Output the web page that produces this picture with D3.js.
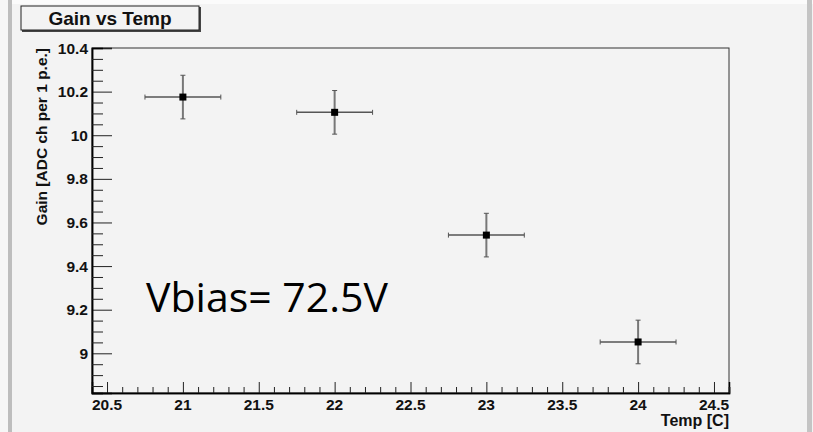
<!DOCTYPE html>
<html><head><meta charset="utf-8">
<script src="https://cdn.jsdelivr.net/npm/d3@7"></script>
<style>
html,body{margin:0;padding:0;background:#f3f3f3;}
svg{display:block;}
text{font-family:"Liberation Sans",Arial,sans-serif;}
text.anno{font-family:"Open Sans","Liberation Sans",sans-serif;}
</style></head>
<body>
<svg id="c" width="813" height="432"></svg>
<script>
const temps = [21, 22, 23, 24];
const gains = [10.175, 10.105, 9.542, 9.052];
const tempErr = [0.25, 0.25, 0.25, 0.25];
const gainErr = [0.1, 0.1, 0.1, 0.1];
const xTickLabels = ["20.5","21","21.5","22","22.5","23","23.5","24","24.5"];
const yTickLabels = ["9","9.2","9.4","9.6","9.8","10","10.2","10.4"];

const svg = d3.select("#c");
const W = 813, H = 432;
const L = 92, R = 729, T = 48, B = 393;

// background & frame bars
svg.append("rect").attr("x",0).attr("y",0).attr("width",W).attr("height",H).attr("fill","#f3f3f3");
svg.append("rect").attr("x",0).attr("y",0).attr("width",W).attr("height",4).attr("fill","#fbfbfb");
svg.append("rect").attr("x",0).attr("y",0).attr("width",8).attr("height",H).attr("fill","#f6f6f6");
svg.append("rect").attr("x",8).attr("y",0).attr("width",4).attr("height",H).attr("fill","#bdbdbd");
svg.append("rect").attr("x",807).attr("y",0).attr("width",5).attr("height",H).attr("fill","#c4c4c4");

const x = d3.scaleLinear().domain([20.401, 24.599]).range([L, R]);
const y = d3.scaleLinear().domain([8.818, 10.4]).range([B, T]);

// frame
svg.append("rect").attr("x",L).attr("y",T).attr("width",R-L).attr("height",B-T)
  .attr("fill","none").attr("stroke","#333").attr("stroke-width",1);

// x axis
const xMajor = xTickLabels.map(Number);
const xAxis = d3.axisTop(x).tickValues(xMajor).tickSize(11).tickFormat("");
const gx = svg.append("g").attr("transform",`translate(0,${B})`).call(xAxis);
const xMinor = d3.range(20.5, 24.6, 0.1).map(v=>+v.toFixed(2)).filter(v=>!xMajor.some(m=>Math.abs(m-v)<1e-6));
const gxm = svg.append("g").attr("transform",`translate(0,${B})`).call(d3.axisTop(x).tickValues(xMinor).tickSize(6).tickFormat(""));
[gx,gxm].forEach(g=>{g.select(".domain").attr("stroke","#000").attr("stroke-width",1.5);g.selectAll(".tick line").attr("stroke","#222").attr("stroke-width",1);});
svg.append("g").selectAll("text").data(xTickLabels).join("text")
  .attr("x",d=>x(+d)).attr("y",410).attr("text-anchor","middle")
  .attr("font-size",15.5).attr("font-weight","bold").attr("fill","#111").text(d=>d);

// y axis
const yMajor = yTickLabels.map(Number);
const gy = svg.append("g").attr("transform",`translate(${L},0)`).call(d3.axisRight(y).tickValues(yMajor).tickSize(20).tickFormat(""));
const yMinor = d3.range(8.85, 10.4, 0.05).map(v=>+v.toFixed(2)).filter(v=>!yMajor.some(m=>Math.abs(m-v)<1e-6));
const gym = svg.append("g").attr("transform",`translate(${L},0)`).call(d3.axisRight(y).tickValues(yMinor).tickSize(11).tickFormat(""));
[gy,gym].forEach(g=>{g.select(".domain").attr("stroke","#000").attr("stroke-width",1.5);g.selectAll(".tick line").attr("stroke","#222").attr("stroke-width",1);});
svg.append("g").selectAll("text").data(yTickLabels).join("text")
  .attr("x",88).attr("y",d=>y(+d)+5.5).attr("text-anchor","end")
  .attr("font-size",15.5).attr("font-weight","bold").attr("fill","#111").text(d=>d);

// axis titles
svg.append("text").attr("transform","translate(47,48) rotate(-90)").attr("text-anchor","end")
  .attr("font-size",15.5).attr("font-weight","bold").attr("fill","#111").text("Gain [ADC ch per 1 p.e.]");
svg.append("text").attr("x",729).attr("y",426).attr("text-anchor","end")
  .attr("font-size",16).attr("font-weight","bold").attr("fill","#111").text("Temp [C]");

// title box
svg.append("rect").attr("x",22).attr("y",7).attr("width",179).attr("height",25).attr("fill","#444");
svg.append("rect").attr("x",21).attr("y",6).attr("width",178).attr("height",24).attr("fill","#f3f3f3").attr("stroke","#222").attr("stroke-width",1);
svg.append("text").attr("x",110).attr("y",25).attr("text-anchor","middle")
  .attr("font-size",19).attr("font-weight","bold").attr("fill","#111").text("Gain vs Temp");

// data
const pts = temps.map((t,i)=>({t, g:gains[i], ex:tempErr[i], ey:gainErr[i]}));
const gp = svg.append("g");
pts.forEach(p=>{
  const cx = x(p.t), cy = y(p.g);
  gp.append("line").attr("x1",x(p.t-p.ex)).attr("x2",x(p.t+p.ex)).attr("y1",cy).attr("y2",cy).attr("stroke","#555").attr("stroke-width",1.5);
  gp.append("line").attr("x1",cx).attr("x2",cx).attr("y1",y(p.g-p.ey)).attr("y2",y(p.g+p.ey)).attr("stroke","#777").attr("stroke-width",2);
  [p.t-p.ex,p.t+p.ex].forEach(v=>gp.append("line").attr("x1",x(v)).attr("x2",x(v)).attr("y1",cy-2.5).attr("y2",cy+2.5).attr("stroke","#555").attr("stroke-width",1));
  [p.g-p.ey,p.g+p.ey].forEach(v=>gp.append("line").attr("x1",cx-2.5).attr("x2",cx+2.5).attr("y1",y(v)).attr("y2",y(v)).attr("stroke","#555").attr("stroke-width",1));
  gp.append("rect").attr("x",cx-3.5).attr("y",cy-3.5).attr("width",7).attr("height",7).attr("fill","#000");
});

// annotation
svg.append("text").attr("class","anno").attr("x",146).attr("y",312)
  .attr("font-size",41).attr("fill","#000").text("Vbias= 72.5V");
</script>
</body></html>
